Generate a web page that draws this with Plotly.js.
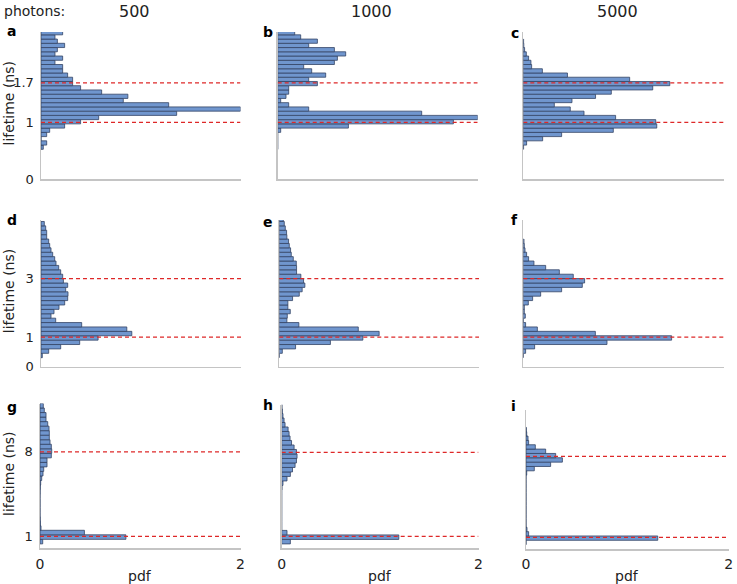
<!DOCTYPE html>
<html>
<head>
<meta charset="utf-8">
<script src="https://cdn.plot.ly/plotly-3.0.1.min.js"></script>
<style>
html, body { margin: 0; padding: 0; background: #fff; }
#chart { width: 737px; height: 584px; }
</style>
</head>
<body>
<div id="chart"></div>
<script>
// columns: number of photons, rows: the two true lifetimes (ns)
const photons = ['500', '1000', '5000'];
const panelLetters = ['a', 'b', 'c', 'd', 'e', 'f', 'g', 'h', 'i'];
const trueLifetimes = [[1, 1.7], [1, 3], [1, 8]];
const lifetimeTicks = [[0, 1, 1.7], [0, 1, 3], [1, 8]];
const lifetimeMax = [2.6, 5, 12];
const pdfTicks = [0, 2];

// histogram bins per row (ns): centre of the lowest bin and bin width
const binStart = [0.5625, 0.375, 0.5625];
const binWidth = [0.075, 0.15, 0.375];

// pdf heights, lowest bin first
const pdfA = [0.023, 0.057, 0, 0.057, 0.087, 0.237, 0.397, 0.578, 1.36, 2.0, 1.28, 0.825, 0.871, 0.608,
  0.397, 0.317, 0.317, 0.267, 0.217, 0.217, 0.14, 0.217, 0.14, 0.164, 0.237, 0.164, 0.14, 0.217];
const pdfB = [0, 0, 0, 0, 0.03, 0.707, 1.757, 2.0, 1.44, 0.31, 0.11, 0.03, 0.083, 0.11, 0.11, 0.397,
  0.31, 0.48, 0.34, 0.26, 0.567, 0.597, 0.68, 0.567, 0.31, 0.397, 0.23, 0.17];
const pdfC = [0.003, 0.033, 0.193, 0.382, 0.897, 1.33, 1.32, 0.92, 0.605, 0.468, 0.309, 0.485, 0.72,
  0.877, 1.29, 1.46, 1.06, 0.44, 0.19, 0.083, 0.076, 0.053, 0.03, 0.013, 0.005, 0.003];
const pdfD = [0.013, 0.077, 0.197, 0.387, 0.571, 0.908, 0.858, 0.407, 0.147, 0.1, 0.13, 0.18, 0.237,
  0.267, 0.27, 0.247, 0.267, 0.224, 0.217, 0.197, 0.177, 0.15, 0.137, 0.117, 0.1, 0.087, 0.077,
  0.057, 0.057, 0.047, 0.033];
const pdfE = [0, 0.03, 0.163, 0.512, 0.837, 1.0, 0.791, 0.196, 0.076, 0.08, 0.11, 0.086, 0.086, 0.133,
  0.2, 0.229, 0.256, 0.243, 0.216, 0.173, 0.173, 0.17, 0.14, 0.12, 0.113, 0.1, 0.093, 0.076, 0.073,
  0.06, 0.05, 0.04];
const pdfF = [0, 0.023, 0.113, 0.834, 1.478, 0.718, 0.14, 0.023, 0, 0.02, 0.01, 0.01, 0.05, 0.093,
  0.173, 0.382, 0.588, 0.611, 0.498, 0.359, 0.223, 0.106, 0.053, 0.033, 0.017, 0.01, 0.007];
const pdfG = [0.027, 0.857, 0.443, 0.01, 0.004, 0.002, 0, 0, 0, 0, 0, 0.001, 0.003, 0.007, 0.017,
  0.03, 0.037, 0.07, 0.07, 0.113, 0.117, 0.113, 0.1, 0.093, 0.093, 0.09, 0.077, 0.06, 0.06, 0.043, 0.033];
const pdfH = [0.088, 1.19, 0.054, 0, 0, 0, 0, 0, 0, 0, 0, 0, 0.003, 0.013, 0.054, 0.088, 0.11, 0.136,
  0.15, 0.156, 0.15, 0.126, 0.1, 0.085, 0.075, 0.065, 0.034, 0.024, 0.013, 0.007, 0.003];
const pdfI = [0, 1.3, 0.026, 0.01, 0, 0, 0, 0, 0, 0, 0, 0, 0, 0, 0, 0, 0.007, 0.082, 0.243, 0.359,
  0.293, 0.194, 0.092, 0.026, 0.02, 0.007, 0.003];

const panelData = [pdfA, pdfB, pdfC, pdfD, pdfE, pdfF, pdfG, pdfH, pdfI];

// axis boxes in pixels: left, right, top, bottom
const boxes = [
  [41, 240.5, 32, 179], [277.7, 477.7, 32, 179], [523.3, 724, 32, 179],
  [41, 241, 220, 366.5], [279.3, 479, 220, 366.5], [523.3, 724, 220, 366.5],
  [40, 240.5, 403.5, 548.4], [281.7, 478.5, 404.5, 548.4], [526, 728.7, 410, 549]
];
// panel letter positions in pixels (left edge, vertical centre)
const letterPos = [
  [5, 31], [261, 32], [509, 33],
  [5, 220], [261, 222], [509, 220],
  [5, 407], [261, 405], [509, 406]
];

const W = 737, H = 584;
const font = 'DejaVu Sans, sans-serif';
const axisGrey = '#c4c4c4';

const traces = [];
const shapes = [];
const annotations = [];
const layout = {
  width: W, height: H,
  margin: {l: 0, r: 0, t: 0, b: 0},
  paper_bgcolor: '#fff', plot_bgcolor: '#fff',
  showlegend: false,
  bargap: 0,
  font: {family: font, size: 14, color: '#222'}
};

panelData.forEach((pdf, k) => {
  const row = Math.floor(k / 3), col = k % 3;
  const n = k + 1;
  const xa = n === 1 ? 'x' : 'x' + n;
  const ya = n === 1 ? 'y' : 'y' + n;
  const [l, r, t, b] = boxes[k];

  traces.push({
    type: 'bar', orientation: 'h',
    x: pdf, y0: binStart[row], dy: binWidth[row], width: binWidth[row],
    xaxis: xa, yaxis: ya,
    marker: {color: 'rgb(112,150,206)', line: {color: 'rgb(52,68,100)', width: 0.8}},
    hoverinfo: 'skip'
  });

  layout['xaxis' + (n === 1 ? '' : n)] = {
    domain: [l / W, r / W], anchor: ya, range: [0, 2],
    showgrid: false, zeroline: false,
    showline: true, linecolor: axisGrey, linewidth: 1.5,
    ticks: 'inside', ticklen: 3, tickcolor: axisGrey,
    tickvals: pdfTicks, ticktext: pdfTicks.map(String),
    showticklabels: row === 2, ticklabelstandoff: 2,
    tickfont: {family: font, size: 14, color: '#222'}
  };
  layout['yaxis' + (n === 1 ? '' : n)] = {
    domain: [1 - b / H, 1 - t / H], anchor: xa, range: [0, lifetimeMax[row]],
    showgrid: false, zeroline: false,
    showline: true, linecolor: axisGrey, linewidth: 1.5,
    ticks: '', tickvals: lifetimeTicks[row], ticktext: lifetimeTicks[row].map(String),
    showticklabels: col === 0, ticklabelstandoff: 3,
    tickfont: {family: font, size: 13, color: '#222'}
  };

  // dashed markers at the true lifetimes
  trueLifetimes[row].forEach(v => {
    shapes.push({
      type: 'line', xref: xa, yref: ya, x0: 0, x1: 2, y0: v, y1: v,
      line: {color: 'rgb(222,40,40)', width: 1.3, dash: '4px,3px'}, layer: 'above'
    });
  });

  annotations.push({
    xref: 'paper', yref: 'paper', x: letterPos[k][0] / W, y: 1 - letterPos[k][1] / H,
    xanchor: 'left', yanchor: 'middle', showarrow: false,
    text: '<b>' + panelLetters[k] + '</b>', font: {family: font, size: 14, color: '#000'}
  });

  if (col === 0) {
    annotations.push({
      xref: 'paper', yref: 'paper', x: 9 / W, y: 1 - ((t + b) / 2 - 2) / H,
      xanchor: 'center', yanchor: 'middle', showarrow: false, textangle: -90,
      text: 'lifetime (ns)', font: {family: font, size: 14, color: '#222'}
    });
  }
  if (row === 2) {
    annotations.push({
      xref: 'paper', yref: 'paper', x: ((l + r) / 2) / W, y: 1 - 576 / H,
      xanchor: 'center', yanchor: 'middle', showarrow: false,
      text: 'pdf', font: {family: font, size: 14, color: '#222'}
    });
  }
});

// column headers
annotations.push({
  xref: 'paper', yref: 'paper', x: 2 / W, y: 1 - 11 / H,
  xanchor: 'left', yanchor: 'middle', showarrow: false,
  text: 'photons:', font: {family: font, size: 14, color: '#222'}
});
photons.forEach((p, c) => {
  const [l, r] = boxes[c];
  annotations.push({
    xref: 'paper', yref: 'paper', x: ((l + r) / 2 - 6) / W, y: 1 - 11 / H,
    xanchor: 'center', yanchor: 'middle', showarrow: false,
    text: p, font: {family: font, size: 16, color: '#222'}
  });
});

layout.shapes = shapes;
layout.annotations = annotations;

Plotly.newPlot('chart', traces, layout, {displayModeBar: false, staticPlot: true});
</script>
</body>
</html>
